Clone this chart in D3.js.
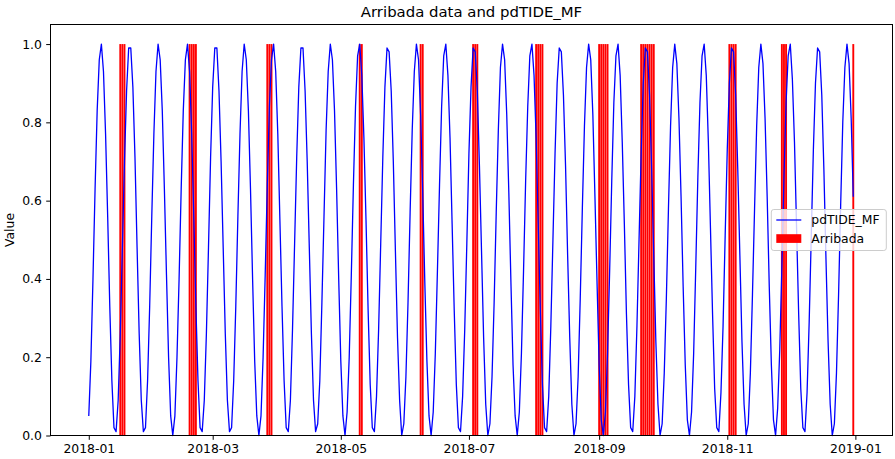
<!DOCTYPE html>
<html>
<head>
    <title>Arribada data and pdTIDE_MF</title>
    <script src="https://cdnjs.cloudflare.com/ajax/libs/d3/7.8.5/d3.min.js"></script>
    <style>
        body {
            margin: 0;
            background: #fff;
        }

        svg text {
            font-family: "DejaVu Sans", sans-serif;
            fill: #000;
        }

        .axis line {
            stroke: #000;
        }
    </style>
</head>
<body>
<svg id="chart"></svg>

<script>
    // pdTIDE_MF, one value per day from startDate
    const startDate = "2018-01-01";
    const tideValues = [
        0.05, 0.19, 0.40, 0.63, 0.83, 0.96,
        1.00, 0.93, 0.77, 0.56, 0.33, 0.14, 0.02, 0.01, 0.09, 0.26, 0.48, 0.70, 0.88, 0.99,
        0.99, 0.89, 0.71, 0.48, 0.26, 0.09, 0.01, 0.02, 0.14, 0.33, 0.56, 0.77, 0.93, 1.00,
        0.96, 0.83, 0.63, 0.41, 0.20, 0.05, 0.00, 0.05, 0.20, 0.40, 0.63, 0.83, 0.96,
        1.00, 0.93, 0.77, 0.56, 0.33, 0.14, 0.02, 0.01, 0.09, 0.26, 0.48, 0.71, 0.89, 0.99,
        0.99, 0.88, 0.70, 0.48, 0.26, 0.09, 0.01, 0.02, 0.14, 0.33, 0.56, 0.77, 0.93, 1.00,
        0.96, 0.83, 0.63, 0.40, 0.19, 0.05, 0.00, 0.05, 0.20, 0.41, 0.64, 0.84, 0.96,
        1.00, 0.93, 0.77, 0.55, 0.33, 0.14, 0.02, 0.01, 0.09, 0.27, 0.49, 0.71, 0.89, 0.99,
        0.99, 0.88, 0.70, 0.48, 0.26, 0.09, 0.01, 0.03, 0.14, 0.34, 0.56, 0.78, 0.93, 1.00,
        0.96, 0.83, 0.63, 0.40, 0.19, 0.05, 0.00, 0.06, 0.20, 0.41, 0.64, 0.84, 0.97,
        1.00, 0.92, 0.76, 0.55, 0.32, 0.13, 0.02, 0.01, 0.10, 0.27, 0.49, 0.71, 0.89, 0.99,
        0.98, 0.88, 0.70, 0.47, 0.25, 0.09, 0.00, 0.03, 0.15, 0.34, 0.57, 0.78, 0.93, 1.00,
        0.96, 0.82, 0.62, 0.39, 0.19, 0.05, 0.00, 0.06, 0.21, 0.42, 0.64, 0.84, 0.97,
        1.00, 0.92, 0.76, 0.54, 0.32, 0.13, 0.02, 0.01, 0.10, 0.27, 0.49, 0.72, 0.89, 0.99,
        0.98, 0.88, 0.69, 0.47, 0.25, 0.08, 0.00, 0.03, 0.15, 0.34, 0.57, 0.78, 0.94, 1.00,
        0.96, 0.82, 0.62, 0.39, 0.18, 0.05, 0.00, 0.06, 0.21, 0.42, 0.65, 0.84, 0.97,
        1.00, 0.92, 0.76, 0.54, 0.32, 0.13, 0.02, 0.01, 0.10, 0.28, 0.50, 0.72, 0.90, 0.99,
        0.98, 0.87, 0.69, 0.46, 0.25, 0.08, 0.00, 0.03, 0.15, 0.35, 0.58, 0.79, 0.94, 1.00,
        0.96, 0.82, 0.61, 0.39, 0.18, 0.04, 0.00, 0.06, 0.21, 0.42, 0.65, 0.85, 0.97,
        1.00, 0.92, 0.75, 0.54, 0.31, 0.13, 0.02, 0.01, 0.10, 0.28, 0.50, 0.72, 0.90, 0.99,
        0.98, 0.87, 0.68, 0.46, 0.24, 0.08, 0.00, 0.03, 0.16, 0.35, 0.58, 0.79, 0.94, 1.00,
        0.95, 0.81, 0.61, 0.38, 0.18, 0.04, 0.00, 0.06, 0.21, 0.43, 0.66, 0.85, 0.97,
        1.00, 0.92, 0.75, 0.53, 0.31, 0.12, 0.02, 0.01, 0.11, 0.28, 0.51, 0.73, 0.90, 0.99,
        0.98, 0.87, 0.68, 0.46, 0.24, 0.08, 0.00, 0.03, 0.16, 0.36, 0.58, 0.79, 0.94, 1.00,
        0.95, 0.81, 0.61, 0.38, 0.18, 0.04, 0.00, 0.07, 0.22, 0.43, 0.66, 0.85, 0.97,
        1.00, 0.91, 0.75, 0.53, 0.31, 0.12, 0.02, 0.01, 0.11, 0.29, 0.51, 0.73, 0.90, 0.99,
        0.98, 0.87, 0.68, 0.45, 0.24, 0.08, 0.00, 0.03, 0.16, 0.36, 0.59, 0.80, 0.94, 1.00,
        0.95, 0.81, 0.61
    ];

    // days with an arribada (bar height 1)
    const arribadaDates = [
        "2018-01-16", "2018-01-17", "2018-01-18",
        "2018-02-18", "2018-02-19", "2018-02-20", "2018-02-21",
        "2018-03-27", "2018-03-28", "2018-03-29",
        "2018-05-10", "2018-05-11",
        "2018-06-08", "2018-06-09",
        "2018-07-03", "2018-07-04", "2018-07-05",
        "2018-08-02", "2018-08-03", "2018-08-04", "2018-08-05",
        "2018-09-01", "2018-09-02", "2018-09-03", "2018-09-04", "2018-09-05",
        "2018-09-21", "2018-09-22", "2018-09-23", "2018-09-24", "2018-09-25", "2018-09-26", "2018-09-27",
        "2018-11-02", "2018-11-03", "2018-11-04", "2018-11-05",
        "2018-11-27", "2018-11-28", "2018-11-29",
        "2018-12-31"
    ];
    const arribadaValue = 1;

    const xTickLabels = ["2018-01", "2018-03", "2018-05", "2018-07", "2018-09", "2018-11", "2019-01"];
    const yTickValues = [0, 0.2, 0.4, 0.6, 0.8, 1.0];

    const width = 895;
    const height = 459;
    const margin = { top: 24.5, right: 2.5, bottom: 23.5, left: 50.5 };
    const fontSize = 12.4;
    const dayMs = 864e5;
    const barWidthDays = 0.9;

    const parseDay = d3.utcParse("%Y-%m-%d");
    const parseMonth = d3.utcParse("%Y-%m");

    const tide = tideValues.map((v, i) => ({
        date: d3.utcDay.offset(parseDay(startDate), i),
        value: v
    }));
    const arribada = arribadaDates.map(s => ({ date: parseDay(s), value: arribadaValue }));

    // data limits like matplotlib: 5% margin on x, bars sit on 0 and get 5% on top
    const halfBar = barWidthDays / 2 * dayMs;
    const xLo = Math.min(+tide[0].date, d3.min(arribada, d => +d.date - halfBar));
    const xHi = Math.max(+tide[tide.length - 1].date, d3.max(arribada, d => +d.date + halfBar));
    const xPad = (xHi - xLo) * 0.05;

    const x = d3.scaleUtc()
        .domain([new Date(xLo - xPad), new Date(xHi + xPad)])
        .range([margin.left, width - margin.right]);

    const yMax = Math.max(d3.max(tideValues), arribadaValue);
    const y = d3.scaleLinear()
        .domain([0, yMax * 1.05])
        .range([height - margin.bottom, margin.top]);

    const svg = d3.select("#chart")
        .attr("width", width)
        .attr("height", height);

    // arribada bars
    svg.append("g")
        .selectAll("rect")
        .data(arribada)
        .join("rect")
        .attr("x", d => x(new Date(+d.date - halfBar)))
        .attr("width", d => x(new Date(+d.date + halfBar)) - x(new Date(+d.date - halfBar)))
        .attr("y", d => y(d.value))
        .attr("height", d => y(0) - y(d.value))
        .attr("fill", "#ff0000");

    // tide line
    const line = d3.line()
        .x(d => x(d.date))
        .y(d => y(d.value));

    svg.append("path")
        .datum(tide)
        .attr("d", line)
        .attr("fill", "none")
        .attr("stroke", "#0000ff")
        .attr("stroke-width", 1.3)
        .attr("stroke-linejoin", "round");

    // axes
    const xAxis = svg.append("g")
        .attr("class", "axis")
        .attr("transform", `translate(0,${height - margin.bottom})`)
        .call(d3.axisBottom(x)
            .tickValues(xTickLabels.map(parseMonth))
            .tickFormat(d3.utcFormat("%Y-%m"))
            .tickSize(4.3)
            .tickPadding(4.3));

    const yAxis = svg.append("g")
        .attr("class", "axis")
        .attr("transform", `translate(${margin.left},0)`)
        .call(d3.axisLeft(y)
            .tickValues(yTickValues)
            .tickFormat(d3.format(".1f"))
            .tickSize(4.3)
            .tickPadding(4.3));

    [xAxis, yAxis].forEach(g => {
        g.select(".domain").remove();
        g.attr("font-size", null).attr("font-family", null);
        g.selectAll("text").style("font-size", fontSize + "px");
    });

    // frame
    svg.append("rect")
        .attr("x", margin.left)
        .attr("y", margin.top)
        .attr("width", width - margin.right - margin.left)
        .attr("height", height - margin.bottom - margin.top)
        .attr("fill", "none")
        .attr("stroke", "#000")
        .attr("stroke-width", 1);

    // title and y label
    svg.append("text")
        .attr("x", (margin.left + width - margin.right) / 2)
        .attr("y", margin.top - 7.5)
        .attr("text-anchor", "middle")
        .style("font-size", "14.9px")
        .text("Arribada data and pdTIDE_MF");

    svg.append("text")
        .attr("transform", `translate(13.5,${(margin.top + height - margin.bottom) / 2}) rotate(-90)`)
        .attr("text-anchor", "middle")
        .style("font-size", fontSize + "px")
        .text("Value");

    // legend, center right
    const legend = svg.append("g")
        .attr("transform", `translate(${width - margin.right - 6.2 - 115},${(margin.top + height - margin.bottom) / 2 - 20.5})`);

    legend.append("rect")
        .attr("width", 115)
        .attr("height", 41)
        .attr("rx", 2.5)
        .attr("fill", "#fff")
        .attr("fill-opacity", 0.8)
        .attr("stroke", "#cccccc")
        .attr("stroke-width", 1);

    legend.append("line")
        .attr("x1", 5).attr("x2", 30)
        .attr("y1", 10.5).attr("y2", 10.5)
        .attr("stroke", "#0000ff")
        .attr("stroke-width", 1.3);

    legend.append("rect")
        .attr("x", 5).attr("y", 24.7)
        .attr("width", 25).attr("height", 8.7)
        .attr("fill", "#ff0000");

    legend.selectAll("text.label")
        .data(["pdTIDE_MF", "Arribada"])
        .join("text")
        .attr("class", "label")
        .attr("x", 40)
        .attr("y", (d, i) => 10.5 + i * 18.5)
        .attr("dy", "0.35em")
        .style("font-size", fontSize + "px")
        .text(d => d);
</script>
</body>
</html>
